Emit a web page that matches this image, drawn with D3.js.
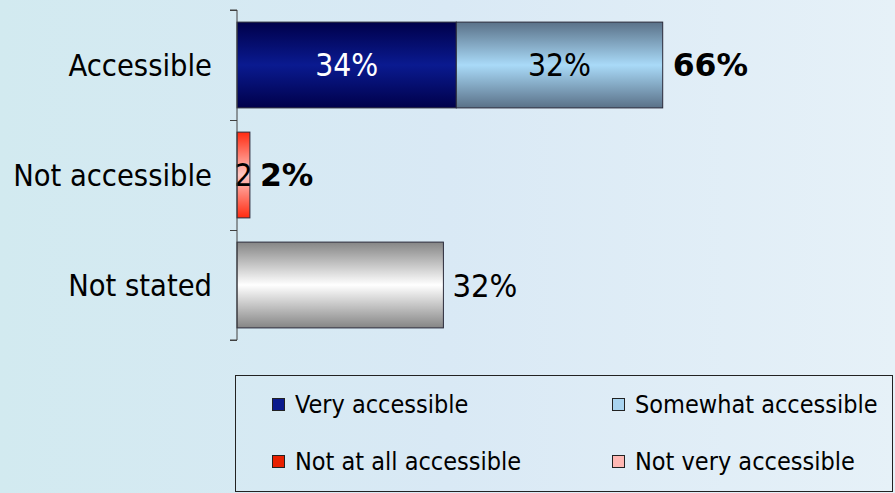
<!DOCTYPE html>
<html><head><meta charset="utf-8">
<script src="https://cdn.jsdelivr.net/npm/d3@7"></script>
<style>html,body{margin:0;padding:0;overflow:hidden;}</style>
</head><body>
<svg id="chart" width="895" height="493"></svg>
<script>
const categories = ["Accessible", "Not accessible", "Not stated"];
const veryAccessible = [34, 0, 0];
const somewhatAccessible = [32, 0, 0];
const notAtAll = [0, 0, 0];
const notVery = [0, 2, 0];
const notStated = [0, 0, 32];
const totals = ["66%", "2%", "32%"];
const totalBold = [true, true, false];
const segmentLabels = [["34%", "32%"], ["2"], []];
const legendLabels = ["Very accessible", "Somewhat accessible", "Not at all accessible", "Not very accessible"];

(function () {
const FONT = "'DejaVu Sans Condensed','DejaVu Sans',Verdana,sans-serif";
const BOLDFONT = "'DejaVu Sans',Verdana,sans-serif";
const svg = d3.select("#chart");
const W = 895, H = 493;
const defs = svg.append("defs");

const bg = defs.append("linearGradient").attr("id","bg").attr("x1","0").attr("x2","1").attr("y1","0").attr("y2","0");
bg.append("stop").attr("offset","0").attr("stop-color","#d2eaf0");
bg.append("stop").attr("offset","0.5").attr("stop-color","#d9e9f5");
bg.append("stop").attr("offset","1").attr("stop-color","#e6f1f8");
svg.append("rect").attr("width",W).attr("height",H).attr("fill","url(#bg)");

function vgrad(id, edge, mid) {
  const g = defs.append("linearGradient").attr("id",id).attr("x1","0").attr("x2","0").attr("y1","0").attr("y2","1");
  g.append("stop").attr("offset","0").attr("stop-color",edge);
  g.append("stop").attr("offset","0.5").attr("stop-color",mid);
  g.append("stop").attr("offset","1").attr("stop-color",edge);
}
vgrad("gVery", "#00004a", "#0a1a90");
vgrad("gSome", "#5a7188", "#a9daf8");
vgrad("gNotAll", "#c01000", "#ff3010");
vgrad("gNotVery", "#ff2a10", "#ffc8c4");
vgrad("gStated", "#858585", "#ffffff");

const pLeft = 237, pTop = 10, pBottom = 340;
const x = d3.scaleLinear().domain([0, 100]).range([pLeft, pLeft + 645]);
const y = d3.scaleBand().domain(categories).range([pTop, pBottom]).paddingInner(0.22).paddingOuter(0.11);

const seriesDefs = [
  {vals: veryAccessible, fill: "url(#gVery)"},
  {vals: somewhatAccessible, fill: "url(#gSome)"},
  {vals: notAtAll, fill: "url(#gNotAll)"},
  {vals: notVery, fill: "url(#gNotVery)"},
  {vals: notStated, fill: "url(#gStated)"}
];

const g = svg.append("g");
const segs = [];
categories.forEach((c, i) => {
  let acc = 0;
  seriesDefs.forEach(s => {
    const v = s.vals[i];
    if (v > 0) {
      segs.push({c, x0: acc, x1: acc + v, fill: s.fill, i});
      acc += v;
    }
  });
});
g.selectAll("rect.seg").data(segs).join("rect").attr("class","seg")
  .attr("x", d => x(d.x0)).attr("width", d => x(d.x1) - x(d.x0))
  .attr("y", d => y(d.c)).attr("height", y.bandwidth())
  .attr("fill", d => d.fill).attr("stroke", "#2a2a3a").attr("stroke-width", 1);

categories.forEach((c, i) => {
  const ss = segs.filter(s => s.i === i);
  (segmentLabels[i] || []).forEach((lab, k) => {
    const s = ss[k];
    if (!s) return;
    svg.append("text").attr("x", (x(s.x0) + x(s.x1)) / 2).attr("y", y(c) + y.bandwidth() / 2)
      .attr("dy", "0.36em").attr("text-anchor", "middle")
      .attr("font-family", FONT).attr("font-size", 31.5)
      .attr("fill", s.fill === "url(#gVery)" ? "#ffffff" : "#000000").text(lab);
  });
  const end = ss.length ? ss[ss.length - 1].x1 : 0;
  svg.append("text").attr("x", x(end) + (totalBold[i] ? 10 : 9)).attr("y", y(c) + y.bandwidth() / 2)
    .attr("dy", "0.36em").attr("font-family", totalBold[i] ? BOLDFONT : FONT)
    .attr("font-size", totalBold[i] ? 31.5 : 32.5)
    .attr("font-weight", totalBold[i] ? "bold" : "normal").attr("fill", "#000").text(totals[i]);
});

const axisScale = d3.scaleLinear().domain([0, 3]).range([pTop, pBottom]);
const axis = d3.axisLeft(axisScale).tickValues([0,1,2,3]).tickSize(7).tickFormat("");
const ag = svg.append("g").attr("transform", `translate(${pLeft},0)`).call(axis);
ag.select(".domain").attr("stroke", "#404040").attr("d", `M-7,${pTop}H0V${pBottom}H-7`);
ag.selectAll(".tick line").attr("stroke", "#404040");

svg.selectAll("text.cat").data(categories).join("text").attr("class","cat")
  .attr("x", 212).attr("y", d => y(d) + y.bandwidth() / 2).attr("dy", "0.36em")
  .attr("text-anchor", "end").attr("font-family", FONT).attr("font-size", 30.5).attr("fill", "#000").text(d => d);

svg.append("rect").attr("x", 235.5).attr("y", 375.5).attr("width", 657).attr("height", 116)
  .attr("fill", "none").attr("stroke", "#222").attr("stroke-width", 1);
const legendSolid = ["#0a1a8c", "#a9d4f0", "#e82000", "#ffb8b4"];
const lx = [272, 612], ly = [398, 455];
legendLabels.forEach((lab, k) => {
  const cx = lx[k % 2], cy = ly[Math.floor(k / 2)];
  svg.append("rect").attr("x", cx + 0.5).attr("y", cy + 0.5).attr("width", 12).attr("height", 12)
    .attr("fill", legendSolid[k]).attr("stroke", "#222").attr("stroke-width", 1);
  svg.append("text").attr("x", cx + 23).attr("y", cy + 6).attr("dy", "0.36em")
    .attr("font-family", FONT).attr("font-size", 25).attr("fill", "#000").text(lab);
});
})();
</script>
</body></html>
